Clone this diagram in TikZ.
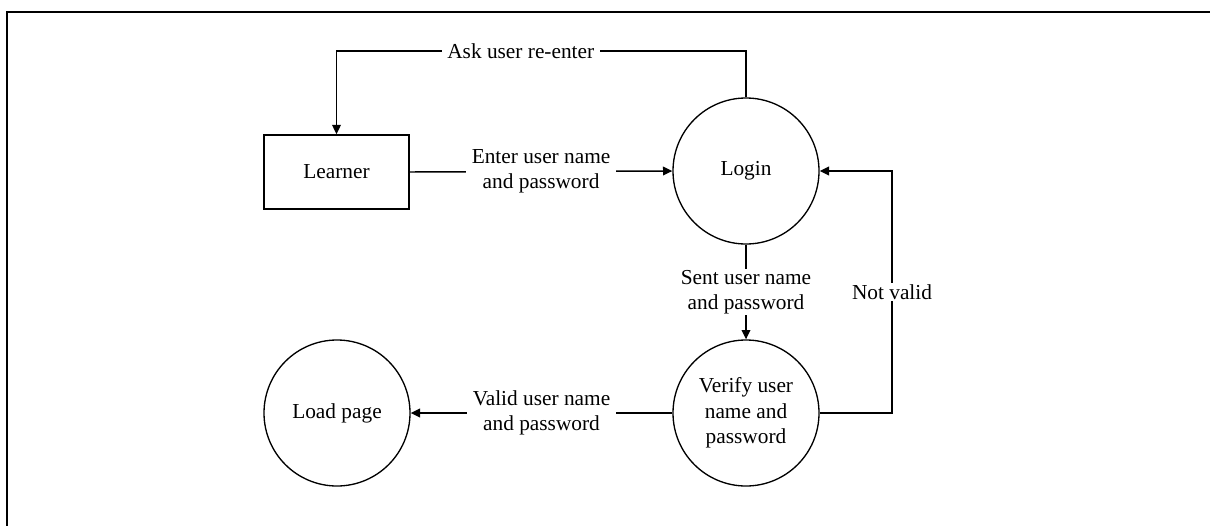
\documentclass[tikz,border=0pt]{standalone}
\usepackage{fontspec}
\setmainfont{Liberation Serif}
\usetikzlibrary{arrows.meta}
\begin{document}
\begin{tikzpicture}[x=0.75pt,y=-0.75pt,
  txt/.style={font=\fontsize{16}{19}\selectfont},
  proc/.style={txt, draw, circle, line width=1pt, minimum size=109.5pt,
    inner sep=0pt, align=center},
  entity/.style={txt, draw, rectangle, line width=1.2pt,
    minimum width=108.75pt, minimum height=55.5pt},
  flow/.style={line width=1.1pt, -{Triangle[length=7pt,width=6.5pt]}},
  lbl/.style={txt, fill=white, align=center, inner xsep=4pt, inner ysep=1pt}]
\useasboundingbox (0,0) rectangle (1210,525);

% page frame
\draw[line width=2.2pt] (1215,12) -- (7,12) -- (7,530);

% entities and processes
\node[entity] (learner) at (336.5,172) {Learner};
\node[proc] (login) at (746,171) {Login};
\node[proc] (verify) at (746,413) {Verify user\\name and\\password};
\node[proc] (load) at (337,413) {Load page};

% bend points
\coordinate (askR) at (746,51);
\coordinate (askL) at (336.5,51);
\coordinate (nvB) at (892,413);
\coordinate (nvT) at (892,171);

% data flows
\draw[flow] (login.north) -- (askR)
  -- node[lbl, pos=0.55] {Ask user re-enter} (askL) -- (learner.north);
\draw[flow] (learner.east) -- node[lbl] {Enter user name\\and password} (login.west);
\draw[flow] (login.south) -- node[lbl] {Sent user name\\and password} (verify.north);
\draw[flow] (verify.east) -- (nvB) -- node[lbl] {Not valid} (nvT) -- (login.east);
\draw[flow] (verify.west) -- node[lbl] {Valid user name\\and password} (load.east);
\end{tikzpicture}
\end{document}
